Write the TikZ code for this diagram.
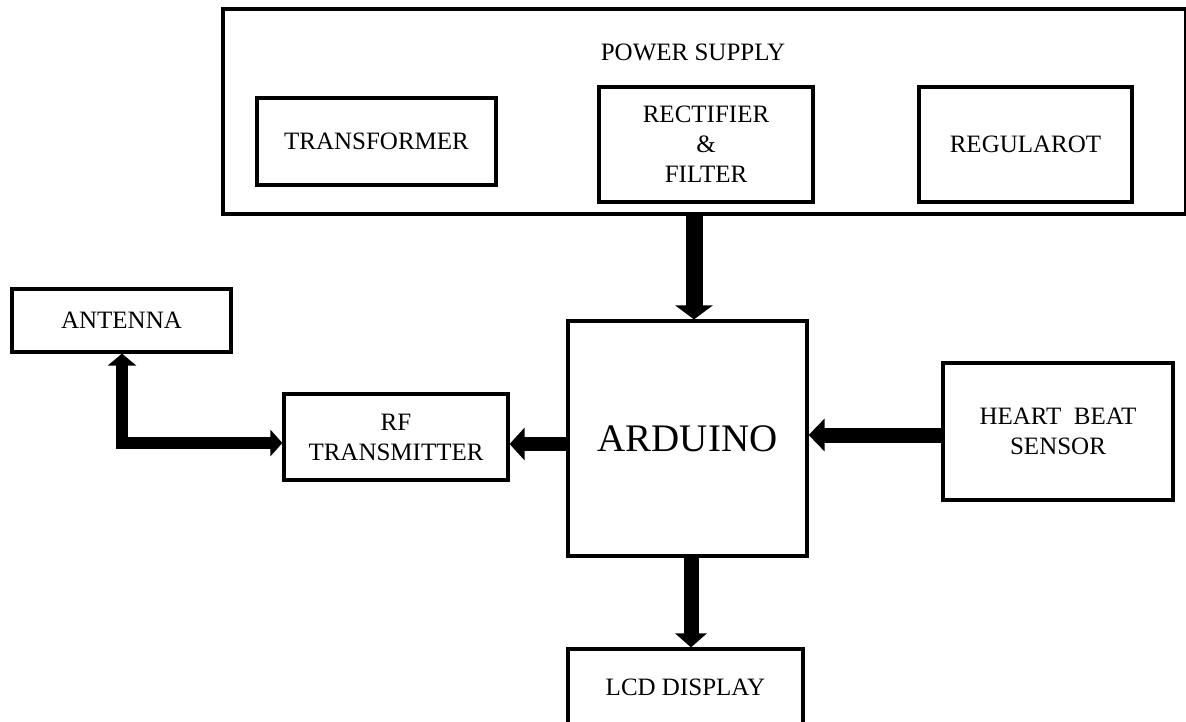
\documentclass[tikz,border=0pt]{standalone}
\usepackage{fontspec}
\setmainfont{Liberation Serif}
\usetikzlibrary{arrows.meta}
\begin{document}
\begin{tikzpicture}[x=1pt,y=-1pt,
  box/.style={draw, line width=3.2pt, inner sep=0pt, align=center,
    font=\fontsize{25}{30}\selectfont},
  lbl/.style={inner sep=0pt, align=center, font=\fontsize{25}{30}\selectfont},
  fat/.style={line width=#1},
]
\useasboundingbox (0,0) rectangle (1186,722);
\fill[white] (0,0) rectangle (1186,722);
% power supply group
\node[box, minimum width=963pt, minimum height=205pt] (ps) at (704.5,111.5) {};
\node[lbl] (pslabel) at (693,52) {POWER SUPPLY};
\node[box, minimum width=239pt, minimum height=87pt] (tr) at (376.5,141.5) {TRANSFORMER};
\node[box, minimum width=214pt, minimum height=115pt] (rect) at (706,144.5) {RECTIFIER\\\&\\FILTER};
\node[box, minimum width=213pt, minimum height=115pt] (reg) at (1025.5,144.5) {REGULAROT};
% other blocks
\node[box, minimum width=219pt, minimum height=63pt] (ant) at (121.5,320.5) {ANTENNA};
\node[box, minimum width=224pt, minimum height=86pt] (rf) at (396,437) {RF\\TRANSMITTER};
\node[box, minimum width=239pt, minimum height=235pt, font=\fontsize{39}{46}\selectfont] (ard) at (687.5,438.5) {ARDUINO};
\node[box, minimum width=230pt, minimum height=137pt] (hb) at (1058,431.5) {HEART\ \ BEAT\\SENSOR};
\node[box, minimum width=235pt, minimum height=76pt] (lcd) at (685.5,687) {LCD DISPLAY};
% connectors
\draw[fat=17pt, -{Triangle[width=37pt,length=14pt]}]
  ([xshift=6.5pt]ard.north |- ps.south) -- ([xshift=6.5pt]ard.north);
\draw[fat=15pt, -{Triangle[width=31pt,length=14pt]}]
  ([xshift=3.5pt]ard.south) -- ([xshift=3.5pt]ard.south |- lcd.north);
\draw[fat=15pt, -{Triangle[width=32pt,length=16pt]}]
  ([yshift=-3.5pt]hb.west) -- ([yshift=-3.5pt]hb.west -| ard.east);
\draw[fat=14pt, -{Triangle[width=32pt,length=15pt]}]
  ([yshift=-5.5pt]ard.west) -- ([yshift=-5.5pt]ard.west -| rf.east);
\draw[fat=12pt, {Triangle[width=28pt,length=12pt]}-{Triangle[width=26pt,length=12pt]}]
  ([xshift=0.5pt]ant.south) |- ([yshift=-6pt]rf.west);
\end{tikzpicture}
\end{document}
